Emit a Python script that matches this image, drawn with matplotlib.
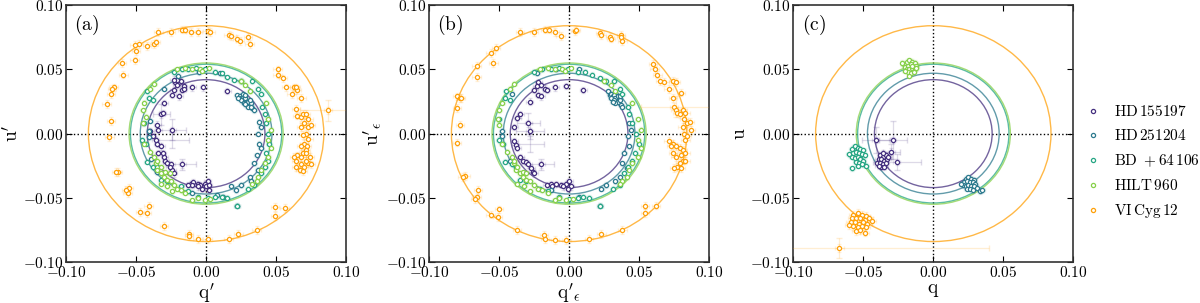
import numpy as np
import matplotlib
matplotlib.use("Agg")
import matplotlib.pyplot as plt
from matplotlib.patches import Circle
from matplotlib.ticker import FuncFormatter

plt.rcParams["mathtext.fontset"] = "cm"
plt.rcParams["font.family"] = ["DejaVu Serif"]

stars = ["HD 155197", "HD 251204", "BD + 64 106", "HILT 960", "VI Cyg 12"]
colors = ["#45307f", "#2d7a8e", "#26a684", "#86d04a", "#ffa10a"]
radii = [0.042, 0.047, 0.054, 0.055, 0.084]
small_err = [0.0025, 0.002, 0.002, 0.002, 0.003]

# ---- panel (a): q', u'
a_hd155197 = [(-0.022, 0.040), (-0.021, 0.038), (-0.018, 0.041), (-0.016, 0.037), (-0.023, 0.034),
              (-0.024, 0.030), (-0.019, 0.029), (-0.017, 0.034), (-0.016, 0.035), (-0.010, 0.036),
              (-0.002, 0.036), (0.015, 0.033), (-0.021, 0.042), (-0.023, 0.042), (-0.030, 0.024),
              (-0.032, 0.015), (-0.035, 0.007), (-0.034, 0.003), (-0.031, 0.016), (-0.024, 0.003),
              (-0.040, 0.002), (-0.038, -0.002), (-0.036, -0.005), (-0.035, -0.008), (-0.032, -0.010),
              (-0.034, -0.015), (-0.030, -0.018), (-0.029, -0.021), (-0.028, -0.023), (-0.025, -0.024),
              (-0.024, -0.028), (-0.023, -0.031), (-0.026, -0.026), (-0.031, -0.015), (-0.017, -0.024),
              (-0.011, -0.039), (-0.009, -0.038), (-0.006, -0.039), (-0.004, -0.040), (-0.001, -0.039),
              (0.000, -0.041), (0.001, -0.037), (0.002, -0.040), (-0.003, -0.043), (-0.006, -0.041),
              (-0.010, -0.040), (0.002, -0.044), (-0.013, -0.040)]
a_hd251204 = [(0.022, 0.030), (0.024, 0.029), (0.025, 0.028), (0.026, 0.029), (0.027, 0.026),
              (0.028, 0.028), (0.030, 0.025), (0.025, 0.026), (0.027, 0.024), (0.031, 0.022),
              (0.032, 0.024), (0.030, 0.021), (0.033, 0.020), (0.034, 0.018), (0.026, 0.031),
              (0.028, 0.030), (0.023, 0.028), (0.031, 0.026), (0.032, 0.021), (0.028, 0.023),
              (0.038, 0.009), (0.039, 0.005), (0.037, 0.000), (0.038, -0.008), (0.039, -0.011),
              (0.036, -0.017), (0.034, -0.023), (0.037, -0.028), (0.031, -0.034), (0.032, -0.037),
              (0.025, -0.040), (0.021, -0.044), (0.018, -0.041), (0.022, -0.056), (-0.041, 0.002),
              (-0.040, 0.010), (-0.041, -0.003), (-0.039, -0.020), (-0.035, -0.030), (-0.030, 0.035),
              (-0.020, 0.045), (-0.005, 0.048), (0.010, 0.047), (-0.010, -0.046), (0.008, -0.048),
              (0.012, -0.049)]
a_bd64106 = [(-0.023, 0.048), (-0.017, 0.050), (-0.013, 0.050), (-0.007, 0.051), (-0.001, 0.050),
             (0.006, 0.048), (0.011, 0.047), (0.015, 0.044), (0.020, 0.042), (0.025, 0.041),
             (-0.042, 0.033), (-0.041, 0.028), (-0.038, 0.026), (-0.044, 0.008), (-0.046, -0.005),
             (-0.043, -0.008), (-0.042, -0.022), (-0.038, -0.026), (-0.035, -0.026), (-0.032, -0.036),
             (-0.028, -0.037), (-0.018, -0.041), (-0.013, -0.045), (-0.006, -0.049), (0.001, -0.050),
             (0.006, -0.049), (0.011, -0.049), (0.015, -0.050), (0.022, -0.056), (0.030, -0.043),
             (0.034, -0.040), (0.039, -0.031), (0.042, -0.026), (0.044, -0.021), (0.043, -0.015),
             (0.045, -0.008), (0.044, 0.000), (0.043, 0.008), (0.042, 0.015), (0.040, 0.021),
             (0.039, 0.031), (0.037, 0.035), (0.033, 0.041)]
a_hilt960 = [(-0.021, 0.050), (-0.015, 0.051), (-0.010, 0.050), (-0.004, 0.050), (0.002, 0.051),
             (-0.003, 0.049), (-0.037, 0.039), (-0.040, 0.035), (-0.044, 0.024), (-0.045, 0.018),
             (-0.043, 0.013), (-0.045, 0.008), (-0.044, -0.008), (-0.040, -0.014), (-0.037, -0.018),
             (-0.036, -0.023), (-0.035, -0.028), (-0.032, -0.031), (-0.030, -0.034), (-0.028, -0.036),
             (-0.025, -0.037), (-0.023, -0.040), (-0.021, -0.043), (-0.018, -0.044), (-0.015, -0.046),
             (-0.010, -0.052), (-0.006, -0.050), (-0.001, -0.052), (0.003, -0.051), (-0.032, -0.026),
             (-0.029, -0.030), (-0.026, -0.031), (-0.035, -0.021), (0.044, 0.011), (0.046, 0.003),
             (0.044, -0.005), (0.046, -0.011), (0.044, -0.018), (0.042, -0.023), (0.039, -0.028),
             (0.037, -0.034), (0.036, -0.037), (0.033, -0.039), (0.025, 0.041), (0.028, 0.038),
             (0.031, 0.033), (0.043, 0.024), (-0.032, -0.039), (-0.028, -0.041), (-0.024, -0.045)]
a_vicyg12 = [(-0.034, 0.079), (-0.025, 0.079), (-0.017, 0.081), (-0.015, 0.081), (-0.011, 0.079),
             (-0.006, 0.079), (0.001, 0.080), (0.003, 0.079), (0.016, 0.077), (0.018, 0.076),
             (0.022, 0.074), (0.024, 0.072), (0.030, 0.075), (0.031, 0.070), (-0.048, 0.070),
             (-0.051, 0.069), (-0.042, 0.068), (-0.037, 0.070), (-0.036, 0.071), (-0.051, 0.057),
             (-0.050, 0.064), (-0.060, 0.055), (-0.059, 0.046), (-0.066, 0.036), (-0.068, 0.031),
             (-0.067, 0.035), (-0.071, 0.023), (-0.068, 0.010), (-0.069, -0.003), (-0.063, -0.030),
             (-0.064, -0.030), (-0.055, -0.042), (-0.056, -0.046), (-0.057, -0.044), (-0.041, -0.056),
             (-0.047, -0.061), (-0.042, -0.062), (-0.030, -0.072), (-0.012, -0.078), (-0.012, -0.080),
             (-0.006, -0.082), (0.001, -0.082), (0.016, -0.082), (0.023, -0.078), (0.036, -0.075),
             (0.049, -0.057), (0.049, -0.064), (0.056, -0.058), (0.051, 0.050), (0.051, 0.046),
             (0.055, 0.043), (0.057, 0.036), (0.063, 0.036), (0.065, 0.034), (0.068, 0.028),
             (0.061, 0.031), (0.064, 0.036), (0.087, 0.018), (0.064, 0.019), (0.065, 0.014),
             (0.068, 0.013), (0.069, 0.015), (0.071, 0.015), (0.073, 0.011), (0.070, 0.008),
             (0.073, 0.005), (0.075, 0.007), (0.068, 0.005), (0.071, 0.000), (0.069, -0.001),
             (0.073, -0.004), (0.070, -0.008), (0.072, -0.010), (0.071, -0.013), (0.069, -0.015),
             (0.065, -0.017), (0.068, -0.018), (0.074, -0.018), (0.064, -0.021), (0.073, -0.023),
             (0.068, -0.024), (0.070, -0.026), (0.064, -0.026), (0.067, -0.028), (0.069, -0.029),
             (0.075, -0.024), (0.071, -0.021), (0.068, -0.010), (0.071, -0.015), (0.063, -0.018)]
# points with large error bars: (star index, q, u, q_err, u_err)
a_wide = [(4, 0.087, 0.018, 0.020, 0.008), (0, -0.024, 0.003, 0.010, 0.008),
          (0, -0.017, -0.024, 0.010, 0.004), (0, -0.032, 0.015, 0.006, 0.008),
          (0, -0.024, -0.005, 0.012, 0.006)]

# ---- panel (b): q'_eps, u'_eps
b_hd155197 = [(-0.022, 0.040), (-0.023, 0.037), (-0.020, 0.038), (-0.017, 0.035), (-0.025, 0.034),
              (-0.022, 0.030), (-0.020, 0.029), (-0.016, 0.034), (-0.010, 0.036), (-0.002, 0.037),
              (0.010, 0.034), (-0.028, 0.025), (-0.035, 0.015), (-0.037, 0.012), (-0.039, 0.005),
              (-0.029, 0.008), (-0.028, 0.002), (-0.039, -0.006), (-0.038, -0.009), (-0.037, -0.011),
              (-0.035, -0.018), (-0.033, -0.021), (-0.031, -0.022), (-0.029, -0.024), (-0.027, -0.027),
              (-0.026, -0.030), (-0.025, -0.031), (-0.020, -0.024), (-0.016, -0.040), (-0.013, -0.039),
              (-0.009, -0.039), (-0.006, -0.040), (-0.002, -0.039), (0.000, -0.037), (0.001, -0.041),
              (-0.001, -0.043), (-0.004, -0.041), (-0.012, -0.041)]
b_hd251204 = [(0.028, 0.033), (0.029, 0.030), (0.030, 0.031), (0.031, 0.029), (0.032, 0.030),
              (0.033, 0.028), (0.035, 0.029), (0.030, 0.028), (0.032, 0.026), (0.035, 0.025),
              (0.036, 0.026), (0.033, 0.024), (0.037, 0.022), (0.038, 0.021), (0.031, 0.025),
              (0.036, 0.029), (0.043, 0.008), (0.044, 0.003), (0.042, -0.002), (0.043, -0.010),
              (0.039, -0.015), (0.038, -0.023), (0.041, -0.027), (0.036, -0.034), (0.033, -0.037),
              (0.026, -0.040), (0.023, -0.043), (0.022, -0.056), (-0.048, 0.002), (-0.048, -0.002),
              (-0.042, -0.021), (-0.041, 0.031), (-0.023, 0.047), (-0.009, 0.050), (0.007, 0.050),
              (-0.013, -0.044), (0.007, -0.049)]
b_bd64106 = [(-0.025, 0.048), (-0.019, 0.050), (-0.013, 0.050), (-0.007, 0.051), (-0.001, 0.050),
             (0.006, 0.048), (0.011, 0.048), (0.016, 0.046), (0.022, 0.043), (0.026, 0.041),
             (-0.045, 0.033), (-0.046, 0.028), (-0.042, 0.026), (-0.050, 0.011), (-0.050, -0.005),
             (-0.047, -0.008), (-0.046, -0.022), (-0.041, -0.024), (-0.038, -0.026), (-0.035, -0.036),
             (-0.031, -0.037), (-0.021, -0.043), (-0.015, -0.045), (-0.007, -0.049), (0.000, -0.051),
             (0.006, -0.050), (0.010, -0.049), (0.014, -0.050), (0.022, -0.056), (0.031, -0.043),
             (0.036, -0.040), (0.039, -0.031), (0.042, -0.026), (0.045, -0.021), (0.047, -0.015),
             (0.050, -0.008), (0.048, 0.000), (0.045, 0.008), (0.043, 0.015), (0.042, 0.021),
             (0.038, 0.031), (0.036, 0.035), (0.032, 0.041)]
b_hilt960 = [(-0.021, 0.050), (-0.015, 0.051), (-0.010, 0.050), (-0.005, 0.050), (0.001, 0.051),
             (-0.003, 0.049), (-0.039, 0.039), (-0.042, 0.035), (-0.048, 0.024), (-0.050, 0.018),
             (-0.050, 0.007), (-0.051, 0.011), (-0.048, -0.008), (-0.044, -0.014), (-0.041, -0.018),
             (-0.039, -0.023), (-0.038, -0.028), (-0.035, -0.031), (-0.033, -0.034), (-0.031, -0.036),
             (-0.028, -0.037), (-0.025, -0.040), (-0.022, -0.043), (-0.019, -0.044), (-0.015, -0.046),
             (-0.010, -0.052), (-0.007, -0.050), (-0.002, -0.052), (0.003, -0.051), (-0.037, -0.026),
             (-0.033, -0.030), (-0.031, -0.031), (-0.039, -0.021), (0.049, 0.011), (0.051, 0.003),
             (0.049, -0.005), (0.051, -0.011), (0.049, -0.018), (0.045, -0.023), (0.043, -0.028),
             (0.041, -0.034), (0.038, -0.037), (0.036, -0.039), (0.025, 0.041), (0.030, 0.038),
             (0.033, 0.033), (0.045, 0.024), (-0.037, -0.039), (-0.032, -0.041), (-0.028, -0.045)]
b_vicyg12 = [(-0.035, 0.079), (-0.025, 0.079), (-0.017, 0.081), (-0.014, 0.081), (-0.010, 0.079),
             (-0.006, 0.076), (0.004, 0.080), (0.005, 0.081), (0.022, 0.078), (0.023, 0.077),
             (0.029, 0.075), (0.030, 0.074), (0.037, 0.077), (0.038, 0.072), (0.037, 0.075),
             (-0.052, 0.067), (-0.056, 0.063), (-0.054, 0.055), (-0.066, 0.053), (-0.066, 0.044),
             (-0.080, 0.029), (-0.078, 0.028), (-0.077, 0.028), (-0.080, 0.020), (-0.078, 0.007),
             (-0.080, -0.007), (-0.074, -0.033), (-0.076, -0.034), (-0.065, -0.044), (-0.066, -0.049),
             (-0.067, -0.051), (-0.050, -0.059), (-0.056, -0.063), (-0.051, -0.065), (-0.037, -0.075),
             (-0.018, -0.079), (-0.017, -0.082), (-0.010, -0.083), (-0.002, -0.083), (0.014, -0.082),
             (0.023, -0.078), (0.038, -0.075), (0.060, 0.054), (0.061, 0.050), (0.063, 0.046),
             (0.065, 0.041), (0.068, 0.040), (0.071, 0.035), (0.074, 0.041), (0.076, 0.040),
             (0.080, 0.032), (0.074, 0.028), (0.075, 0.021), (0.076, 0.018), (0.077, 0.016),
             (0.079, 0.015), (0.081, 0.018), (0.083, 0.016), (0.082, 0.011), (0.084, 0.008),
             (0.081, 0.005), (0.086, 0.009), (0.087, 0.003), (0.082, 0.000), (0.084, -0.002),
             (0.083, -0.005), (0.074, -0.008), (0.076, -0.010), (0.079, -0.011), (0.081, -0.013),
             (0.083, -0.015), (0.080, -0.017), (0.076, -0.018), (0.081, -0.021), (0.079, -0.023),
             (0.083, -0.021), (0.077, -0.026), (0.075, -0.027), (0.080, -0.027), (0.074, -0.015),
             (0.054, -0.056), (0.054, -0.062), (0.062, -0.056), (0.073, -0.010), (0.071, -0.006)]
b_wide = [(4, 0.076, 0.021, 0.025, 0.008), (0, -0.029, 0.008, 0.008, 0.008),
          (0, -0.028, 0.002, 0.010, 0.006), (0, -0.020, -0.024, 0.009, 0.004),
          (0, -0.028, -0.008, 0.010, 0.006)]

# ---- panel (c): q, u
c_hd155197 = [(-0.041, -0.005), (-0.029, -0.005), (-0.030, -0.014), (-0.026, -0.022), (-0.038, -0.017),
              (-0.036, -0.018), (-0.034, -0.017), (-0.039, -0.020), (-0.037, -0.020), (-0.035, -0.021),
              (-0.033, -0.020), (-0.040, -0.023), (-0.038, -0.023), (-0.036, -0.024), (-0.034, -0.023),
              (-0.037, -0.026), (-0.035, -0.026), (-0.039, -0.025), (-0.032, -0.018), (-0.036, -0.015)]
c_hd251204 = [(0.023, -0.035), (0.025, -0.034), (0.027, -0.035), (0.029, -0.036), (0.022, -0.038),
              (0.024, -0.037), (0.026, -0.038), (0.028, -0.038), (0.030, -0.039), (0.021, -0.040),
              (0.023, -0.041), (0.025, -0.040), (0.027, -0.041), (0.029, -0.041), (0.031, -0.042),
              (0.024, -0.043), (0.026, -0.043), (0.028, -0.044), (0.033, -0.045), (0.035, -0.044),
              (0.020, -0.039)]
c_bd64106 = [(-0.058, -0.012), (-0.056, -0.010), (-0.054, -0.011), (-0.052, -0.012), (-0.050, -0.013),
             (-0.057, -0.015), (-0.055, -0.014), (-0.053, -0.015), (-0.051, -0.016), (-0.049, -0.017),
             (-0.058, -0.018), (-0.056, -0.019), (-0.054, -0.018), (-0.052, -0.020), (-0.050, -0.021),
             (-0.055, -0.022), (-0.053, -0.023), (-0.051, -0.024), (-0.048, -0.025), (-0.058, -0.027),
             (-0.054, -0.025), (-0.060, -0.016)]
c_hilt960 = [(-0.021, 0.054), (-0.019, 0.056), (-0.017, 0.057), (-0.015, 0.056), (-0.013, 0.055),
             (-0.020, 0.052), (-0.018, 0.053), (-0.016, 0.054), (-0.014, 0.052), (-0.012, 0.053),
             (-0.019, 0.050), (-0.017, 0.050), (-0.015, 0.051), (-0.013, 0.050), (-0.018, 0.048),
             (-0.016, 0.047), (-0.014, 0.048), (-0.020, 0.049), (-0.012, 0.051), (-0.017, 0.045),
             (-0.022, 0.055), (-0.015, 0.053)]
c_vicyg12 = [(-0.057, -0.063), (-0.054, -0.062), (-0.051, -0.063), (-0.048, -0.064), (-0.058, -0.066),
             (-0.055, -0.066), (-0.052, -0.066), (-0.049, -0.067), (-0.046, -0.066), (-0.059, -0.069),
             (-0.056, -0.069), (-0.053, -0.070), (-0.050, -0.069), (-0.047, -0.070), (-0.044, -0.068),
             (-0.057, -0.072), (-0.054, -0.073), (-0.051, -0.072), (-0.048, -0.073), (-0.055, -0.076),
             (-0.052, -0.075), (-0.049, -0.077), (-0.060, -0.071), (-0.067, -0.089)]
c_wide = [(4, -0.067, -0.089, 0.107, 0.008), (0, -0.041, -0.005, 0.010, 0.010),
          (0, -0.029, -0.005, 0.010, 0.015), (0, -0.026, -0.022, 0.017, 0.006),
          (0, -0.030, -0.014, 0.006, 0.006)]

panels = [
    ("(a)", r"$\mathrm{q}'$", r"$\mathrm{u}'$",
     [a_hd155197, a_hd251204, a_bd64106, a_hilt960, a_vicyg12], a_wide),
    ("(b)", r"$\mathrm{q}'_{\epsilon}$", r"$\mathrm{u}'_{\epsilon}$",
     [b_hd155197, b_hd251204, b_bd64106, b_hilt960, b_vicyg12], b_wide),
    ("(c)", r"$\mathrm{q}$", r"$\mathrm{u}$",
     [c_hd155197, c_hd251204, c_bd64106, c_hilt960, c_vicyg12], c_wide),
]

fig = plt.figure(figsize=(12, 3.03), dpi=100)
lefts = [0.055, 0.3575, 0.661]


def fmt(v, pos):
    s = "%.2f" % v
    if s == "-0.00":
        s = "0.00"
    return "$" + s + "$"


for left, (tag, xl, yl, series, wide) in zip(lefts, panels):
    ax = fig.add_axes([left, 0.135, 0.2335, 0.848])
    for r, c in zip(radii, colors):
        ax.add_patch(Circle((0, 0), r, fill=False, edgecolor=c, lw=1.0, alpha=0.75, zorder=2))
    ax.axhline(0, color="k", ls=":", lw=1.0, zorder=1)
    ax.axvline(0, color="k", ls=":", lw=1.0, zorder=1)
    for i, pts in enumerate(series):
        q = np.array([p[0] for p in pts])
        u = np.array([p[1] for p in pts])
        ax.errorbar(q, u, xerr=small_err[i], yerr=small_err[i], fmt="none",
                    ecolor=colors[i], alpha=0.15, elinewidth=0.8, capsize=1.5, zorder=3)
        ax.plot(q, u, "o", ms=3.0, mfc="white", mec=colors[i], mew=0.9, ls="none",
                zorder=4, label=stars[i])
    for (i, q, u, qe, ue) in wide:
        ax.errorbar([q], [u], xerr=[qe], yerr=[ue], fmt="none", ecolor=colors[i],
                    alpha=0.18, elinewidth=0.9, capsize=2, zorder=3)
    ax.set_xlim(-0.1, 0.1)
    ax.set_ylim(-0.1, 0.1)
    ax.set_xticks([-0.1, -0.05, 0, 0.05, 0.1])
    ax.set_yticks([-0.1, -0.05, 0, 0.05, 0.1])
    ax.xaxis.set_major_formatter(FuncFormatter(fmt))
    ax.yaxis.set_major_formatter(FuncFormatter(fmt))
    ax.tick_params(direction="in", top=True, right=True, length=4, labelsize=11, pad=2)
    for sp in ax.spines.values():
        sp.set_linewidth(1.2)
        sp.set_color("#333333")
    ax.set_xlabel(xl, fontsize=14, labelpad=1)
    ax.set_ylabel(yl, fontsize=14, labelpad=1)
    ax.text(0.03, 0.97, r"$\mathrm{" + tag + "}$",
            transform=ax.transAxes, ha="left", va="top", fontsize=14)
    last = ax

handles, labels = last.get_legend_handles_labels()
labels = [r"$\mathrm{" + s.replace(" ", r"\,") + "}$" for s in labels]
labels[2] = r"$\mathrm{BD\ +64\,106}$"
fig.legend(handles, labels, loc="center left", bbox_to_anchor=(0.893, 0.465),
           frameon=False, fontsize=11, handletextpad=0.9, labelspacing=0.6,
           handlelength=1.0)

fig.savefig("out.png", dpi=100)
